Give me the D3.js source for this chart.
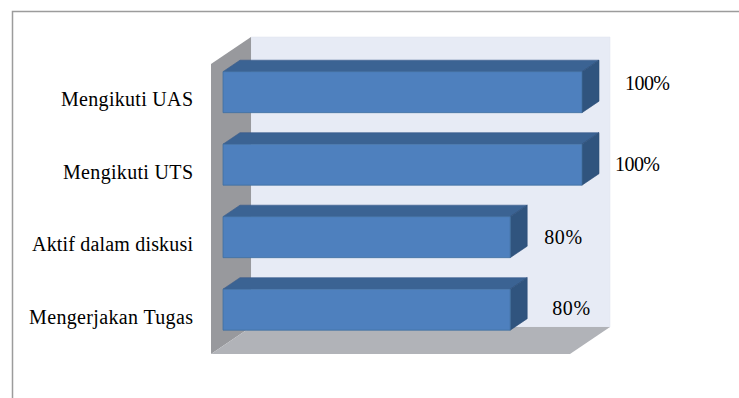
<!DOCTYPE html>
<html>
<head>
<meta charset="utf-8">
<script src="https://cdn.jsdelivr.net/npm/d3@7"></script>
<style>
html,body{margin:0;padding:0;background:#fff;}
svg{display:block;}
</style>
</head>
<body>
<svg id="chart" width="739" height="398"></svg>
<script>
// ---- data ----
const categories = ["Mengikuti UAS", "Mengikuti UTS", "Aktif dalam diskusi", "Mengerjakan Tugas"];
const values = [100, 100, 80, 80];
const valueLabels = ["100%", "100%", "80%", "80%"];
const xDomain = [0, 100];

// ---- layout (not data) ----
const W = 739, H = 398;
const DX = 40, DY = -27;           // projection of full depth
const Z0 = 0.3, Z1 = 0.725;        // bar depth range
const labelNudgeX = [15, 5, 6, 14];
const labelNudgeY = [-2, 6, 7, 5];
const catWidths = [132, 130, 161, 164];
const valWidths = [45, 45, 38, 38];
const FONT = "'Liberation Serif', 'Times New Roman', 'DejaVu Serif', serif";

const svg = d3.select("#chart");

const x = d3.scaleLinear().domain(xDomain).range([211, 570]);
const y = d3.scaleBand().domain(categories).range([64, 354])
  .paddingInner(0.434).paddingOuter(0.217);

const P = (px, py, z) => [px + DX * z, py + DY * z];
const poly = pts => pts.map(p => p.join(",")).join(" ");

// outer frame
svg.append("path")
  .attr("d", `M12.5,${H} L12.5,11.5 L${W},11.5`)
  .attr("fill", "none").attr("stroke", "#9c9c9c").attr("stroke-width", 1.5);

const x0 = x(xDomain[0]), x1 = x(xDomain[1]);
const yTop = y.range()[0], yBot = y.range()[1];

// back wall
svg.append("polygon")
  .attr("points", poly([P(x0, yTop, 1), P(x1, yTop, 1), P(x1, yBot, 1), P(x0, yBot, 1)]))
  .attr("fill", "#e7ebf5").attr("stroke", "#dfe3ee").attr("stroke-width", 0.5);
// side wall
svg.append("polygon")
  .attr("points", poly([P(x0, yTop, 0), P(x0, yTop, 1), P(x0, yBot, 1), P(x0, yBot, 0)]))
  .attr("fill", "#98999d");
// floor
svg.append("polygon")
  .attr("points", poly([P(x0, yBot, 0), P(x1, yBot, 0), P(x1, yBot, 1), P(x0, yBot, 1)]))
  .attr("fill", "#b1b3b8");

// bars
const bars = svg.append("g").selectAll("g")
  .data(categories.map((c, i) => ({c, v: values[i], i})))
  .join("g");

bars.each(function(d) {
  const g = d3.select(this);
  const yt = y(d.c), yb = y(d.c) + y.bandwidth();
  const xv = x(d.v);
  g.append("polygon")
    .attr("points", poly([P(x0, yt, Z0), P(xv, yt, Z0), P(xv, yt, Z1), P(x0, yt, Z1)]))
    .attr("fill", "#3b6393").attr("stroke", "#35598a").attr("stroke-width", 0.6);
  g.append("polygon")
    .attr("points", poly([P(xv, yt, Z0), P(xv, yt, Z1), P(xv, yb, Z1), P(xv, yb, Z0)]))
    .attr("fill", "#30547e").attr("stroke", "#2c4e77").attr("stroke-width", 0.6);
  g.append("polygon")
    .attr("points", poly([P(x0, yt, Z0), P(xv, yt, Z0), P(xv, yb, Z0), P(x0, yb, Z0)]))
    .attr("fill", "#4e80be").attr("stroke", "#41709f").attr("stroke-width", 0.8);
});

// category labels
svg.append("g").selectAll("text")
  .data(categories)
  .join("text")
  .attr("x", 193)
  .attr("y", d => y(d) + y.bandwidth() / 2 + 6)
  .attr("text-anchor", "end")
  .attr("font-family", FONT)
  .attr("font-size", 20)
  .attr("fill", "#000")
  .attr("textLength", (d, i) => catWidths[i])
  .attr("lengthAdjust", "spacing")
  .text(d => d);

// value labels
svg.append("g").selectAll("text")
  .data(categories.map((c, i) => ({c, v: values[i], i})))
  .join("text")
  .attr("x", d => x(d.v) + DX + labelNudgeX[d.i])
  .attr("y", d => y(d.c) + y.bandwidth() / 2 + DY * Z0 + labelNudgeY[d.i])
  .attr("font-family", FONT)
  .attr("font-size", 20)
  .attr("fill", "#000")
  .attr("textLength", d => valWidths[d.i])
  .attr("lengthAdjust", "spacing")
  .text(d => valueLabels[d.i]);
</script>
</body>
</html>
